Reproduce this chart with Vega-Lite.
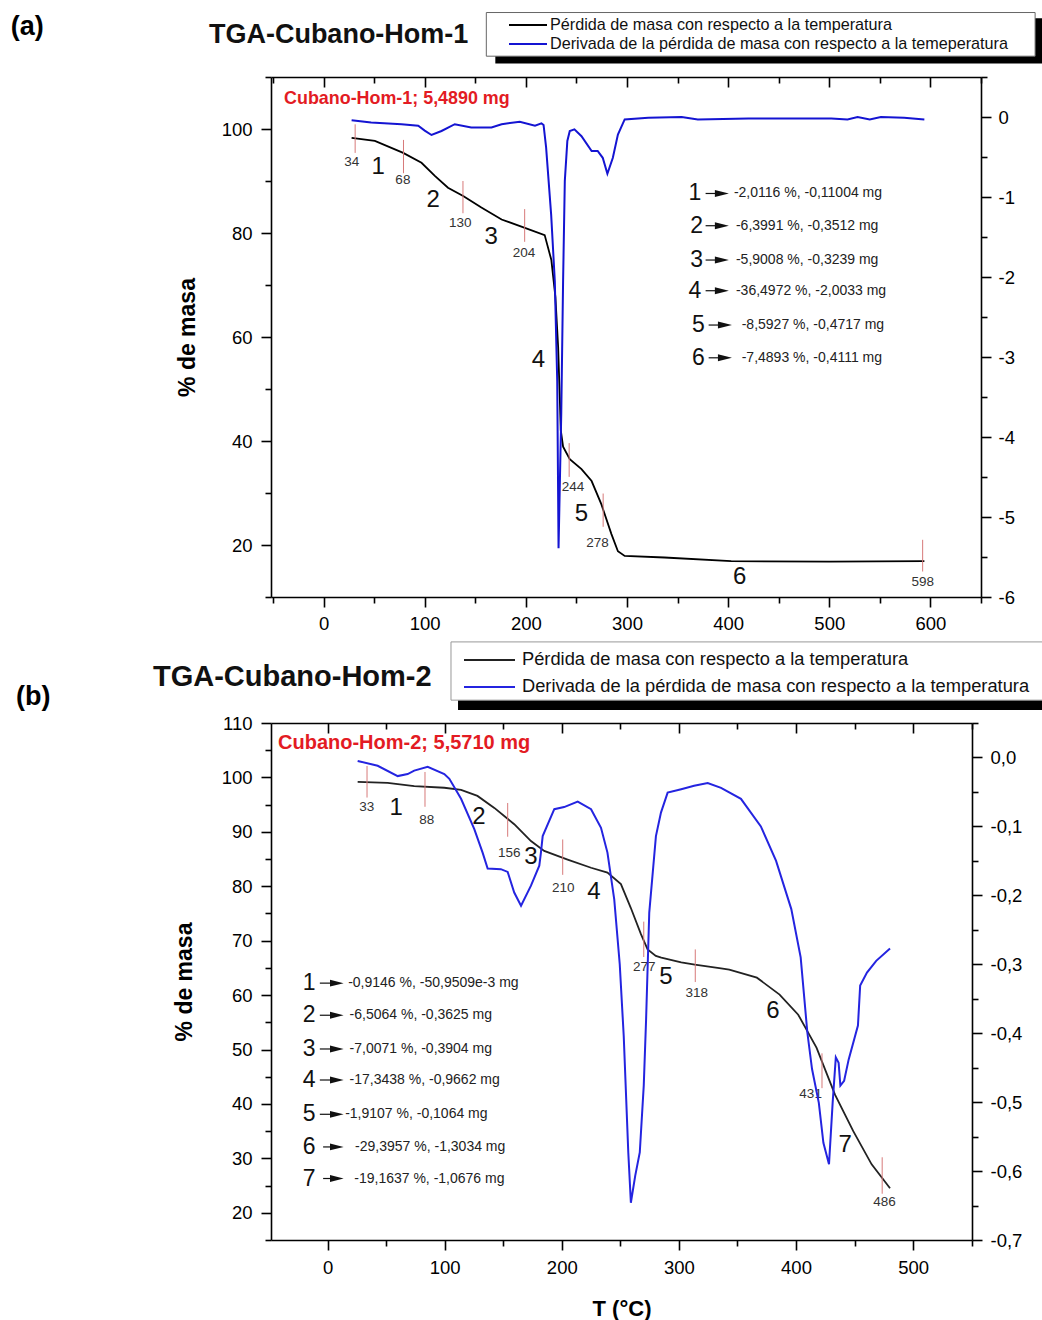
{
  "$schema": "https://vega.github.io/schema/vega-lite/v6.json",
  "padding": {"left": 10, "top": 12, "right": 0, "bottom": 0},
  "config": {
    "font": "Liberation Sans",
    "view": {"stroke": null},
    "axis": {"domainColor": "#000", "domainWidth": 1.6, "tickColor": "#000", "tickWidth": 1.6, "labelColor": "#000", "labelFontSize": 18.5, "grid": false, "titleColor": "#000", "labelOverlap": false, "labelFlush": false, "labelBound": false},
    "legend": {"labelColor": "#111"}
  },
  "datasets": {
    "tga1": [
      {"T": 27.7, "p": 98.3}, {"T": 50.7, "p": 97.7}, {"T": 78.7, "p": 95.4}, {"T": 96.8, "p": 93.5}, {"T": 110, "p": 91.0}, {"T": 123, "p": 88.7}, {"T": 138, "p": 87.1}, {"T": 156, "p": 84.9}, {"T": 176, "p": 82.6}, {"T": 199, "p": 81.0}, {"T": 218.6, "p": 79.6}, {"T": 225.2, "p": 74.8}, {"T": 229.2, "p": 67.7}, {"T": 231.9, "p": 58.1}, {"T": 233.5, "p": 48.5}, {"T": 234.5, "p": 42.1}, {"T": 236.8, "p": 38.9}, {"T": 243.4, "p": 36.5}, {"T": 255, "p": 34.6}, {"T": 265, "p": 32.3}, {"T": 274.7, "p": 27.8}, {"T": 284.6, "p": 22.1}, {"T": 291, "p": 18.8}, {"T": 297.7, "p": 17.9}, {"T": 337, "p": 17.6}, {"T": 403, "p": 16.9}, {"T": 500, "p": 16.8}, {"T": 594, "p": 16.9}
    ],
    "dtg1": [
      {"T": 27.7, "d": -0.04}, {"T": 47, "d": -0.07}, {"T": 77, "d": -0.09}, {"T": 93.6, "d": -0.11}, {"T": 100, "d": -0.17}, {"T": 106.7, "d": -0.225}, {"T": 116.6, "d": -0.175}, {"T": 129.7, "d": -0.09}, {"T": 146, "d": -0.13}, {"T": 166, "d": -0.13}, {"T": 176, "d": -0.09}, {"T": 194, "d": -0.06}, {"T": 209, "d": -0.11}, {"T": 215.4, "d": -0.08}, {"T": 217.5, "d": -0.1}, {"T": 220, "d": -0.38}, {"T": 225, "d": -1.22}, {"T": 228.6, "d": -2.05}, {"T": 231, "d": -3.3}, {"T": 232.3, "d": -5.39}, {"T": 235, "d": -3.7}, {"T": 236.8, "d": -2.05}, {"T": 238.5, "d": -0.8}, {"T": 241, "d": -0.3}, {"T": 243.4, "d": -0.175}, {"T": 248, "d": -0.155}, {"T": 255, "d": -0.24}, {"T": 265, "d": -0.425}, {"T": 271, "d": -0.425}, {"T": 276, "d": -0.51}, {"T": 280.6, "d": -0.71}, {"T": 286, "d": -0.51}, {"T": 291, "d": -0.22}, {"T": 297.7, "d": -0.03}, {"T": 321, "d": -0.01}, {"T": 354, "d": 0}, {"T": 370, "d": -0.03}, {"T": 420, "d": -0.02}, {"T": 502, "d": -0.02}, {"T": 518, "d": -0.03}, {"T": 528, "d": 0}, {"T": 540, "d": -0.03}, {"T": 551, "d": 0}, {"T": 574, "d": -0.01}, {"T": 594, "d": -0.03}
    ],
    "mk1": [
      {"T": 31.2, "lo": 95.4, "hi": 100.9, "lab": "34", "lt": 27.9, "lp": 93.7},
      {"T": 79.0, "lo": 91.5, "hi": 97.9, "lab": "68", "lt": 78.4, "lp": 90.2},
      {"T": 137.8, "lo": 83.8, "hi": 90.0, "lab": "130", "lt": 135.1, "lp": 81.9},
      {"T": 198.8, "lo": 78.3, "hi": 84.6, "lab": "204", "lt": 198.2, "lp": 76.2},
      {"T": 242.8, "lo": 33.1, "hi": 39.6, "lab": "244", "lt": 246.7, "lp": 31.2},
      {"T": 276.4, "lo": 23.5, "hi": 29.9, "lab": "278", "lt": 270.8, "lp": 20.4},
      {"T": 592.3, "lo": 14.9, "hi": 21.0, "lab": "598", "lt": 592.3, "lp": 12.9}
    ],
    "st1": [
      {"T": 54.0, "p": 92.7, "n": "1"}, {"T": 108.4, "p": 86.3, "n": "2"}, {"T": 165.8, "p": 79.2, "n": "3"}, {"T": 212.4, "p": 55.6, "n": "4"}, {"T": 255.0, "p": 26.0, "n": "5"}, {"T": 411.4, "p": 13.8, "n": "6"}
    ],
    "ls1": [
      {"n": "1", "y": 87.6, "nx": 367.1, "ax1": 377.7, "ax2": 388, "tri": 393.8, "tx": 405.7, "txt": "-2,0116 %, -0,11004 mg"},
      {"n": "2", "y": 81.4, "nx": 368.8, "ax1": 377.7, "ax2": 388, "tri": 393.8, "tx": 407.7, "txt": "-6,3991 %, -0,3512 mg"},
      {"n": "3", "y": 74.8, "nx": 368.8, "ax1": 377.7, "ax2": 388, "tri": 393.8, "tx": 407.7, "txt": "-5,9008 %, -0,3239 mg"},
      {"n": "4", "y": 68.9, "nx": 367.1, "ax1": 377.7, "ax2": 388, "tri": 393.8, "tx": 407.7, "txt": "-36,4972 %, -2,0033 mg"},
      {"n": "5", "y": 62.3, "nx": 370.5, "ax1": 380.7, "ax2": 391, "tri": 396.8, "tx": 413.4, "txt": "-8,5927 %, -0,4717 mg"},
      {"n": "6", "y": 56.0, "nx": 370.5, "ax1": 380.7, "ax2": 391, "tri": 396.8, "tx": 413.4, "txt": "-7,4893 %, -0,4111 mg"}
    ],
    "tga2": [
      {"T": 25.7, "p": 99.2}, {"T": 51.3, "p": 99.0}, {"T": 74, "p": 98.4}, {"T": 99.7, "p": 98.1}, {"T": 114, "p": 97.7}, {"T": 128, "p": 96.6}, {"T": 142.4, "p": 94.4}, {"T": 159.4, "p": 91.4}, {"T": 173.7, "p": 88.3}, {"T": 185, "p": 86.5}, {"T": 205, "p": 84.9}, {"T": 225, "p": 83.4}, {"T": 239, "p": 82.5}, {"T": 250.5, "p": 80.4}, {"T": 259, "p": 76.0}, {"T": 267.6, "p": 71.2}, {"T": 273.3, "p": 68.4}, {"T": 280.3, "p": 67.2}, {"T": 285, "p": 66.9}, {"T": 302, "p": 66.0}, {"T": 313.6, "p": 65.6}, {"T": 336, "p": 64.9}, {"T": 343, "p": 64.7}, {"T": 366.6, "p": 63.2}, {"T": 386, "p": 60.1}, {"T": 401.9, "p": 56.4}, {"T": 417.6, "p": 50.3}, {"T": 433.3, "p": 41.7}, {"T": 448.9, "p": 35.0}, {"T": 464.6, "p": 28.9}, {"T": 480.3, "p": 24.5}
    ],
    "dtg2": [
      {"T": 25.7, "d": -0.005}, {"T": 42.8, "d": -0.012}, {"T": 59.9, "d": -0.027}, {"T": 68.4, "d": -0.024}, {"T": 74, "d": -0.019}, {"T": 85.5, "d": -0.0135}, {"T": 99.7, "d": -0.024}, {"T": 104, "d": -0.031}, {"T": 114, "d": -0.06}, {"T": 125.3, "d": -0.104}, {"T": 132.4, "d": -0.138}, {"T": 136.7, "d": -0.161}, {"T": 148, "d": -0.162}, {"T": 153.8, "d": -0.166}, {"T": 159.4, "d": -0.196}, {"T": 165.2, "d": -0.215}, {"T": 173.7, "d": -0.186}, {"T": 180.8, "d": -0.157}, {"T": 182.2, "d": -0.138}, {"T": 183.7, "d": -0.114}, {"T": 193.6, "d": -0.075}, {"T": 202, "d": -0.072}, {"T": 213.6, "d": -0.064}, {"T": 225, "d": -0.075}, {"T": 233.5, "d": -0.102}, {"T": 239, "d": -0.138}, {"T": 244.8, "d": -0.206}, {"T": 249.5, "d": -0.3}, {"T": 252.9, "d": -0.404}, {"T": 256.8, "d": -0.573}, {"T": 259, "d": -0.646}, {"T": 262.7, "d": -0.607}, {"T": 266.6, "d": -0.573}, {"T": 270, "d": -0.476}, {"T": 272, "d": -0.38}, {"T": 274.7, "d": -0.225}, {"T": 280.4, "d": -0.114}, {"T": 284.7, "d": -0.08}, {"T": 290.4, "d": -0.051}, {"T": 302, "d": -0.046}, {"T": 313, "d": -0.041}, {"T": 324.6, "d": -0.037}, {"T": 336, "d": -0.044}, {"T": 353, "d": -0.06}, {"T": 370, "d": -0.1}, {"T": 383, "d": -0.15}, {"T": 396, "d": -0.22}, {"T": 404, "d": -0.29}, {"T": 409.7, "d": -0.399}, {"T": 413.7, "d": -0.452}, {"T": 419.5, "d": -0.501}, {"T": 423.4, "d": -0.559}, {"T": 428.2, "d": -0.59}, {"T": 431.3, "d": -0.501}, {"T": 434, "d": -0.435}, {"T": 436.4, "d": -0.443}, {"T": 437.9, "d": -0.476}, {"T": 441.1, "d": -0.469}, {"T": 445, "d": -0.438}, {"T": 452.9, "d": -0.389}, {"T": 454.8, "d": -0.331}, {"T": 460.6, "d": -0.312}, {"T": 468.5, "d": -0.295}, {"T": 480.3, "d": -0.277}
    ],
    "mk2": [
      {"T": 33.7, "lo": 96.3, "hi": 102.1, "lab": "33", "lt": 33.4, "lp": 94.6},
      {"T": 83.2, "lo": 94.6, "hi": 101.0, "lab": "88", "lt": 84.7, "lp": 92.2},
      {"T": 153.8, "lo": 89.1, "hi": 95.3, "lab": "156", "lt": 155.2, "lp": 86.2},
      {"T": 200.8, "lo": 82.1, "hi": 88.6, "lab": "210", "lt": 201.3, "lp": 79.6},
      {"T": 270.0, "lo": 67.0, "hi": 73.5, "lab": "277", "lt": 270.5, "lp": 65.2},
      {"T": 314.0, "lo": 62.4, "hi": 68.4, "lab": "318", "lt": 315.2, "lp": 60.4},
      {"T": 422.2, "lo": 42.9, "hi": 49.3, "lab": "431", "lt": 412.5, "lp": 41.8},
      {"T": 473.6, "lo": 23.5, "hi": 30.2, "lab": "486", "lt": 475.6, "lp": 22.0}
    ],
    "st2": [
      {"T": 58.5, "p": 94.4, "n": "1"}, {"T": 129.3, "p": 92.7, "n": "2"}, {"T": 173.7, "p": 85.4, "n": "3"}, {"T": 227.5, "p": 78.9, "n": "4"}, {"T": 288.9, "p": 63.3, "n": "5"}, {"T": 380.4, "p": 57.1, "n": "6"}, {"T": 441.9, "p": 32.4, "n": "7"}
    ],
    "ls2": [
      {"n": "1", "y": 62.2, "nx": -15.7, "ax1": -6.6, "ax2": 4, "tri": 7.9, "tx": 17.6, "txt": "-0,9146 %, -50,9509e-3 mg"},
      {"n": "2", "y": 56.3, "nx": -15.7, "ax1": -6.6, "ax2": 4, "tri": 7.9, "tx": 18.8, "txt": "-6,5064 %, -0,3625 mg"},
      {"n": "3", "y": 50.1, "nx": -15.7, "ax1": -6.6, "ax2": 4, "tri": 7.9, "tx": 18.8, "txt": "-7,0071 %, -0,3904 mg"},
      {"n": "4", "y": 44.4, "nx": -15.7, "ax1": -6.6, "ax2": 4, "tri": 7.9, "tx": 18.8, "txt": "-17,3438 %, -0,9662 mg"},
      {"n": "5", "y": 38.1, "nx": -15.7, "ax1": -6.6, "ax2": 4, "tri": 7.9, "tx": 15.0, "txt": "-1,9107 %, -0,1064 mg"},
      {"n": "6", "y": 32.1, "nx": -15.7, "ax1": -3.8, "ax2": 4, "tri": 7.9, "tx": 23.5, "txt": "-29,3957 %, -1,3034 mg"},
      {"n": "7", "y": 26.3, "nx": -15.7, "ax1": -3.8, "ax2": 4, "tri": 7.9, "tx": 22.8, "txt": "-19,1637 %, -1,0676 mg"}
    ]
  },
  "spacing": 126,
  "bounds": "flush",
  "resolve": {"scale": {"color": "independent"}, "legend": {"color": "independent"}},
  "vconcat": [
    {
      "width": 710,
      "height": 520,
      "resolve": {"scale": {"y": "independent"}, "axis": {"x": "independent"}},
      "layer": [
        {
          "data": {"name": "tga1"},
          "mark": {"type": "line", "strokeWidth": 1.8},
          "encoding": {
            "x": {
              "field": "T", "type": "quantitative",
              "scale": {"domain": [-52, 650], "nice": false, "zero": false},
              "axis": {
                "orient": "bottom", "title": null,
                "values": [-50, 0, 50, 100, 150, 200, 250, 300, 350, 400, 450, 500, 550, 600, 650],
                "labelExpr": "datum.value % 100 === 0 && datum.value >= 0 && datum.value <= 600 ? datum.label : ''",
                "tickSize": {"condition": {"test": "datum.value % 100 === 0", "value": 10}, "value": 6},
                "labelPadding": 7
              }
            },
            "y": {
              "field": "p", "type": "quantitative",
              "scale": {"domain": [10, 110], "nice": false, "zero": false},
              "axis": {
                "orient": "left",
                "values": [10, 20, 30, 40, 50, 60, 70, 80, 90, 100, 110],
                "labelExpr": "datum.value % 20 === 0 ? datum.label : ''",
                "tickSize": {"condition": {"test": "datum.value % 20 === 0", "value": 10}, "value": 6},
                "labelPadding": 9,
                "title": "% de masa", "titleFontSize": 23, "titleFontWeight": "bold", "titlePadding": 22
              }
            },
            "color": {
              "datum": "Pérdida de masa con respecto a la temperatura", "type": "nominal",
              "scale": {"domain": ["Pérdida de masa con respecto a la temperatura", "Derivada de la pérdida de masa con respecto a la temeperatura"], "range": ["#000000", "#1414d2"]},
              "legend": {"orient": "none", "legendX": 237, "legendY": -61.5, "title": null, "symbolType": "stroke", "symbolSize": 1444, "symbolStrokeWidth": 1.8, "labelFontSize": 16.2, "labelOffset": 2, "labelLimit": 1000, "clipHeight": 19, "rowPadding": 0, "padding": 0}
            }
          }
        },
        {
          "layer": [
            {
              "data": {"values": [{}]},
              "mark": {"type": "rect", "color": "#000"},
              "encoding": {
                "x": {"datum": 169.8, "type": "quantitative", "axis": null},
                "x2": {"datum": 710.4},
                "y": {"datum": 121.3, "type": "quantitative", "axis": null, "scale": {"domain": [10, 110], "nice": false, "zero": false}},
                "y2": {"datum": 112.6}
              }
            },
            {
              "data": {"values": [{}]},
              "mark": {"type": "rect", "fill": "#fff", "stroke": "#666", "strokeWidth": 1},
              "encoding": {
                "x": {"datum": 160.9, "type": "quantitative", "axis": null},
                "x2": {"datum": 703.5},
                "y": {"datum": 122.4, "type": "quantitative", "axis": null},
                "y2": {"datum": 114.0}
              }
            },
            {
              "data": {"name": "mk1"},
              "mark": {"type": "rule", "color": "#d77a7a", "strokeWidth": 1},
              "encoding": {
                "x": {"field": "T", "type": "quantitative", "axis": null},
                "y": {"field": "lo", "type": "quantitative", "axis": null},
                "y2": {"field": "hi"}
              }
            },
            {
              "data": {"name": "mk1"},
              "mark": {"type": "text", "fontSize": 13.5, "color": "#333", "align": "center", "baseline": "middle"},
              "encoding": {
                "x": {"field": "lt", "type": "quantitative", "axis": null},
                "y": {"field": "lp", "type": "quantitative", "axis": null},
                "text": {"field": "lab"}
              }
            },
            {
              "data": {"name": "st1"},
              "mark": {"type": "text", "fontSize": 24, "color": "#111", "align": "center", "baseline": "middle"},
              "encoding": {
                "x": {"field": "T", "type": "quantitative", "axis": null},
                "y": {"field": "p", "type": "quantitative", "axis": null},
                "text": {"field": "n"}
              }
            },
            {
              "data": {"name": "ls1"},
              "mark": {"type": "text", "fontSize": 23, "color": "#111", "align": "center", "baseline": "middle"},
              "encoding": {
                "x": {"field": "nx", "type": "quantitative", "axis": null},
                "y": {"field": "y", "type": "quantitative", "axis": null},
                "text": {"field": "n"}
              }
            },
            {
              "data": {"name": "ls1"},
              "mark": {"type": "rule", "color": "#111", "strokeWidth": 1.2},
              "encoding": {
                "x": {"field": "ax1", "type": "quantitative", "axis": null},
                "x2": {"field": "ax2"},
                "y": {"field": "y", "type": "quantitative", "axis": null}
              }
            },
            {
              "data": {"name": "ls1"},
              "mark": {"type": "point", "shape": "M-1,-0.5L1,0L-1,0.5Z", "filled": true, "size": 196, "color": "#111", "opacity": 1},
              "encoding": {
                "x": {"field": "tri", "type": "quantitative", "axis": null},
                "y": {"field": "y", "type": "quantitative", "axis": null}
              }
            },
            {
              "data": {"name": "ls1"},
              "mark": {"type": "text", "fontSize": 14, "color": "#222", "align": "left", "baseline": "middle"},
              "encoding": {
                "x": {"field": "tx", "type": "quantitative", "axis": null},
                "y": {"field": "y", "type": "quantitative", "axis": null},
                "text": {"field": "txt"}
              }
            },
            {
              "data": {"values": [{}]},
              "mark": {"type": "text", "text": "(a)", "fontSize": 27, "fontWeight": "bold", "color": "#000", "align": "left", "baseline": "middle"},
              "encoding": {
                "x": {"datum": -309.4, "type": "quantitative", "axis": null},
                "y": {"datum": 119.6, "type": "quantitative", "axis": null}
              }
            },
            {
              "data": {"values": [{}]},
              "mark": {"type": "text", "text": "TGA-Cubano-Hom-1", "fontSize": 27, "fontWeight": "bold", "color": "#111", "align": "left", "baseline": "middle"},
              "encoding": {
                "x": {"datum": -113.4, "type": "quantitative", "axis": null},
                "y": {"datum": 118.1, "type": "quantitative", "axis": null}
              }
            },
            {
              "data": {"values": [{}]},
              "mark": {"type": "text", "text": "Cubano-Hom-1; 5,4890 mg", "fontSize": 17.9, "fontWeight": "bold", "color": "#e31b23", "align": "left", "baseline": "middle"},
              "encoding": {
                "x": {"datum": -39.1, "type": "quantitative", "axis": null},
                "y": {"datum": 105.8, "type": "quantitative", "axis": null}
              }
            }
          ]
        },
        {
          "data": {"name": "dtg1"},
          "mark": {"type": "line", "strokeWidth": 2},
          "encoding": {
            "x": {
              "field": "T", "type": "quantitative",
              "scale": {"domain": [-52, 650], "nice": false, "zero": false},
              "axis": {
                "orient": "bottom", "offset": -520, "labels": false, "title": null,
                "values": [-50, 0, 50, 100, 150, 200, 250, 300, 350, 400, 450, 500, 550, 600, 650],
                "tickSize": {"condition": {"test": "datum.value % 100 === 0", "value": 10}, "value": 6}
              }
            },
            "y": {
              "field": "d", "type": "quantitative",
              "scale": {"domain": [-6, 0.5], "nice": false, "zero": false},
              "axis": {
                "orient": "right", "title": null,
                "values": [-6, -5.5, -5, -4.5, -4, -3.5, -3, -2.5, -2, -1.5, -1, -0.5, 0, 0.5],
                "labelExpr": "datum.value % 1 === 0 ? (datum.value < 0 ? '-' + abs(datum.value) : '' + datum.value) : ''",
                "tickSize": {"condition": {"test": "datum.value % 1 === 0", "value": 10}, "value": 6},
                "labelPadding": 7
              }
            },
            "color": {"datum": "Derivada de la pérdida de masa con respecto a la temeperatura", "type": "nominal"}
          }
        }
      ]
    },
    {
      "width": 701,
      "height": 517,
      "resolve": {"scale": {"y": "independent"}, "axis": {"x": "independent"}},
      "layer": [
        {
          "data": {"name": "tga2"},
          "mark": {"type": "line", "strokeWidth": 1.8},
          "encoding": {
            "x": {
              "field": "T", "type": "quantitative",
              "scale": {"domain": [-48.3, 550.3], "nice": false, "zero": false},
              "axis": {
                "orient": "bottom",
                "values": [0, 50, 100, 150, 200, 250, 300, 350, 400, 450, 500, 550],
                "labelExpr": "datum.value % 100 === 0 && datum.value >= 0 && datum.value <= 500 ? datum.label : ''",
                "tickSize": {"condition": {"test": "datum.value % 100 === 0", "value": 10}, "value": 6},
                "labelPadding": 8,
                "title": "T (°C)", "titleFontSize": 22, "titleFontWeight": "bold", "titlePadding": 22
              }
            },
            "y": {
              "field": "p", "type": "quantitative",
              "scale": {"domain": [15, 110], "nice": false, "zero": false},
              "axis": {
                "orient": "left",
                "values": [15, 20, 25, 30, 35, 40, 45, 50, 55, 60, 65, 70, 75, 80, 85, 90, 95, 100, 105, 110],
                "labelExpr": "datum.value % 10 === 0 ? datum.label : ''",
                "tickSize": {"condition": {"test": "datum.value % 10 === 0", "value": 10}, "value": 6},
                "labelPadding": 9,
                "title": "% de masa", "titleFontSize": 23, "titleFontWeight": "bold", "titlePadding": 25
              }
            },
            "color": {
              "datum": "Pérdida de masa con respecto a la temperatura", "type": "nominal",
              "scale": {"domain": ["Pérdida de masa con respecto a la temperatura", "Derivada de la pérdida de masa con respecto a la temperatura"], "range": ["#222222", "#2424e0"]},
              "legend": {"orient": "none", "legendX": 192, "legendY": -74, "title": null, "symbolType": "stroke", "symbolSize": 2601, "symbolStrokeWidth": 1.8, "labelFontSize": 18.3, "labelOffset": 6, "labelLimit": 1000, "clipHeight": 22, "rowPadding": 5, "padding": 0}
            }
          }
        },
        {
          "layer": [
            {
              "data": {"values": [{}]},
              "mark": {"type": "rect", "color": "#000"},
              "encoding": {
                "x": {"datum": 111.4, "type": "quantitative", "axis": null},
                "x2": {"datum": 610.6},
                "y": {"datum": 123.8, "type": "quantitative", "axis": null, "scale": {"domain": [15, 110], "nice": false, "zero": false}},
                "y2": {"datum": 112.4}
              }
            },
            {
              "data": {"values": [{}]},
              "mark": {"type": "rect", "fill": "#fff", "stroke": "#999", "strokeWidth": 1},
              "encoding": {
                "x": {"datum": 105.4, "type": "quantitative", "axis": null},
                "x2": {"datum": 610.6},
                "y": {"datum": 124.9, "type": "quantitative", "axis": null},
                "y2": {"datum": 114.2}
              }
            },
            {
              "data": {"name": "mk2"},
              "mark": {"type": "rule", "color": "#d77a7a", "strokeWidth": 1},
              "encoding": {
                "x": {"field": "T", "type": "quantitative", "axis": null},
                "y": {"field": "lo", "type": "quantitative", "axis": null},
                "y2": {"field": "hi"}
              }
            },
            {
              "data": {"name": "mk2"},
              "mark": {"type": "text", "fontSize": 13.5, "color": "#333", "align": "center", "baseline": "middle"},
              "encoding": {
                "x": {"field": "lt", "type": "quantitative", "axis": null},
                "y": {"field": "lp", "type": "quantitative", "axis": null},
                "text": {"field": "lab"}
              }
            },
            {
              "data": {"name": "st2"},
              "mark": {"type": "text", "fontSize": 24, "color": "#111", "align": "center", "baseline": "middle"},
              "encoding": {
                "x": {"field": "T", "type": "quantitative", "axis": null},
                "y": {"field": "p", "type": "quantitative", "axis": null},
                "text": {"field": "n"}
              }
            },
            {
              "data": {"name": "ls2"},
              "mark": {"type": "text", "fontSize": 23, "color": "#111", "align": "center", "baseline": "middle"},
              "encoding": {
                "x": {"field": "nx", "type": "quantitative", "axis": null},
                "y": {"field": "y", "type": "quantitative", "axis": null},
                "text": {"field": "n"}
              }
            },
            {
              "data": {"name": "ls2"},
              "mark": {"type": "rule", "color": "#111", "strokeWidth": 1.2},
              "encoding": {
                "x": {"field": "ax1", "type": "quantitative", "axis": null},
                "x2": {"field": "ax2"},
                "y": {"field": "y", "type": "quantitative", "axis": null}
              }
            },
            {
              "data": {"name": "ls2"},
              "mark": {"type": "point", "shape": "M-1,-0.5L1,0L-1,0.5Z", "filled": true, "size": 185, "color": "#111", "opacity": 1},
              "encoding": {
                "x": {"field": "tri", "type": "quantitative", "axis": null},
                "y": {"field": "y", "type": "quantitative", "axis": null}
              }
            },
            {
              "data": {"name": "ls2"},
              "mark": {"type": "text", "fontSize": 14, "color": "#222", "align": "left", "baseline": "middle"},
              "encoding": {
                "x": {"field": "tx", "type": "quantitative", "axis": null},
                "y": {"field": "y", "type": "quantitative", "axis": null},
                "text": {"field": "txt"}
              }
            },
            {
              "data": {"values": [{}]},
              "mark": {"type": "text", "text": "(b)", "fontSize": 27, "fontWeight": "bold", "color": "#000", "align": "left", "baseline": "middle"},
              "encoding": {
                "x": {"datum": -266.0, "type": "quantitative", "axis": null},
                "y": {"datum": 114.8, "type": "quantitative", "axis": null}
              }
            },
            {
              "data": {"values": [{}]},
              "mark": {"type": "text", "text": "TGA-Cubano-Hom-2", "fontSize": 29, "fontWeight": "bold", "color": "#111", "align": "left", "baseline": "middle"},
              "encoding": {
                "x": {"datum": -149.1, "type": "quantitative", "axis": null},
                "y": {"datum": 118.5, "type": "quantitative", "axis": null}
              }
            },
            {
              "data": {"values": [{}]},
              "mark": {"type": "text", "text": "Cubano-Hom-2; 5,5710 mg", "fontSize": 20, "fontWeight": "bold", "color": "#e31b23", "align": "left", "baseline": "middle"},
              "encoding": {
                "x": {"datum": -42.3, "type": "quantitative", "axis": null},
                "y": {"datum": 106.3, "type": "quantitative", "axis": null}
              }
            }
          ]
        },
        {
          "data": {"name": "dtg2"},
          "mark": {"type": "line", "strokeWidth": 2},
          "encoding": {
            "x": {
              "field": "T", "type": "quantitative",
              "scale": {"domain": [-48.3, 550.3], "nice": false, "zero": false},
              "axis": {
                "orient": "bottom", "offset": -517, "labels": false, "title": null,
                "values": [0, 50, 100, 150, 200, 250, 300, 350, 400, 450, 500, 550],
                "tickSize": {"condition": {"test": "datum.value % 100 === 0", "value": 10}, "value": 6}
              }
            },
            "y": {
              "field": "d", "type": "quantitative",
              "scale": {"domain": [-0.7, 0.05], "nice": false, "zero": false},
              "axis": {
                "orient": "right", "title": null,
                "values": [-0.7, -0.65, -0.6, -0.55, -0.5, -0.45, -0.4, -0.35, -0.3, -0.25, -0.2, -0.15, -0.1, -0.05, 0, 0.05],
                "labelExpr": "abs(datum.value*10 - round(datum.value*10)) < 0.001 ? (datum.value < -0.001 ? '-' : '') + replace(format(abs(datum.value), '.1f'), '.', ',') : ''",
                "tickSize": {"condition": {"test": "abs(datum.value*10 - round(datum.value*10)) < 0.001", "value": 10}, "value": 6},
                "labelPadding": 8
              }
            },
            "color": {"datum": "Derivada de la pérdida de masa con respecto a la temperatura", "type": "nominal"}
          }
        }
      ]
    }
  ]
}
